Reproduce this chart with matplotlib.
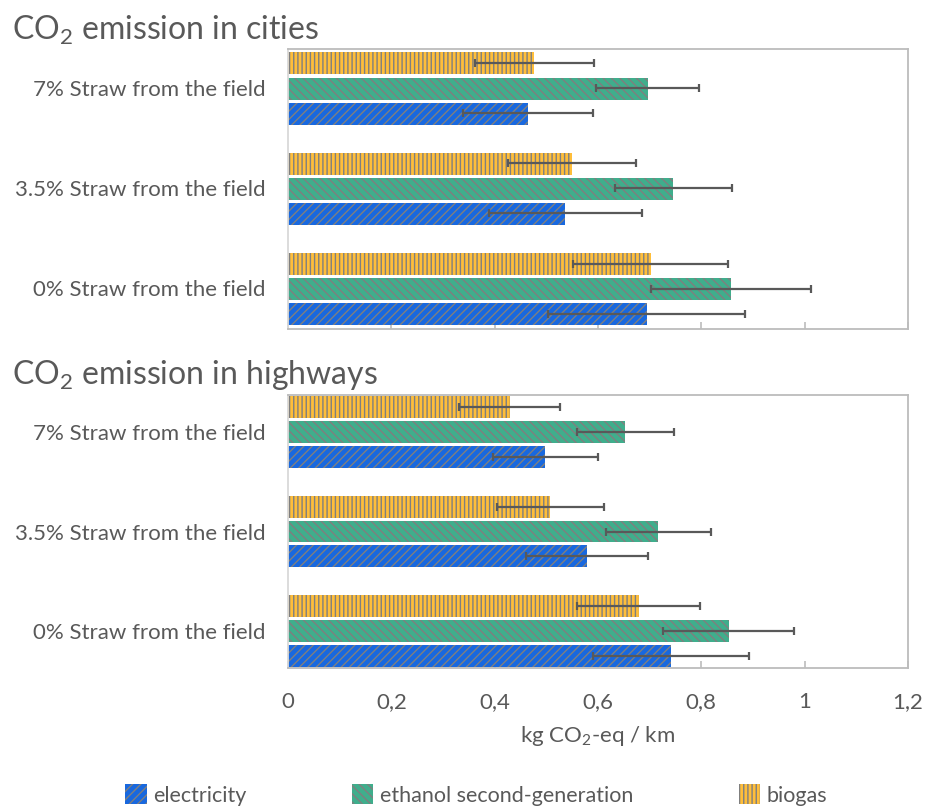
import matplotlib
matplotlib.use("Agg")
import matplotlib.pyplot as plt
from matplotlib.patches import Patch
import numpy as np

plt.rcParams['font.family'] = ['Lato', 'DejaVu Sans']
plt.rcParams['mathtext.fontset'] = 'custom'
plt.rcParams['mathtext.rm'] = 'Lato'
plt.rcParams['mathtext.it'] = 'Lato:italic'
plt.rcParams['mathtext.bf'] = 'Lato:bold'
plt.rcParams['hatch.linewidth'] = 1.0

# Scenarios, bottom to top on each panel
scenarios = ["0% Straw from the field", "3.5% Straw from the field", "7% Straw from the field"]
series = ["electricity", "ethanol second-generation", "biogas"]

# CO2 emission in cities (kg CO2-eq / km), per scenario above
city_electricity = [0.694, 0.537, 0.464]
city_ethanol = [0.857, 0.746, 0.696]
city_biogas = [0.702, 0.549, 0.477]
city_electricity_err = [0.19, 0.148, 0.126]
city_ethanol_err = [0.155, 0.114, 0.10]
city_biogas_err = [0.15, 0.124, 0.115]

# CO2 emission in highways (kg CO2-eq / km)
hw_electricity = [0.742, 0.578, 0.498]
hw_ethanol = [0.853, 0.717, 0.653]
hw_biogas = [0.679, 0.508, 0.429]
hw_electricity_err = [0.151, 0.118, 0.102]
hw_ethanol_err = [0.127, 0.101, 0.094]
hw_biogas_err = [0.119, 0.103, 0.098]

xticks = [0, 0.2, 0.4, 0.6, 0.8, 1.0, 1.2]
xtick_labels = ["0", "0,2", "0,4", "0,6", "0,8", "1", "1,2"]

face = {"electricity": "#1868df", "ethanol second-generation": "#3fae8c", "biogas": "#ffbe3a"}
hatch = {"electricity": "////", "ethanol second-generation": "\\\\\\\\", "biogas": "||||"}
offset = {"electricity": -0.25, "ethanol second-generation": 0.0, "biogas": 0.25}
hatch_col = "#7f7f7f"
text_col = "#595959"
spine_col = "#bcbcbc"
fs = 16

W, H = 925, 807
fig = plt.figure(figsize=(W / 100, H / 100), dpi=100)

left = 288 / W
width = (908 - 288) / W
ax_top = fig.add_axes([left, (H - 329) / H, width, 280 / H])
ax_bot = fig.add_axes([left, (H - 668) / H, width, 273 / H])


def draw_panel(ax, vals, errs, ylim):
    y = np.arange(len(scenarios))
    for name in series:
        ax.barh(y + offset[name], vals[name], height=0.22, color=face[name],
                edgecolor=hatch_col, hatch=hatch[name], linewidth=0, zorder=2)
        ax.errorbar(vals[name], y + offset[name], xerr=errs[name], fmt='none',
                    ecolor="#595959", elinewidth=1.6, capsize=3.2, capthick=1.6, zorder=3)
    ax.set_xlim(0, 1.2)
    ax.set_ylim(*ylim)
    ax.set_yticks(y)
    ax.set_yticklabels(scenarios, fontsize=fs, color=text_col)
    ax.tick_params(axis='y', length=0, pad=16)
    ax.set_xticks(xticks)
    ax.tick_params(axis='x', direction='in', length=5, width=1.2, color=spine_col)
    for s in ax.spines.values():
        s.set_color(spine_col)
        s.set_linewidth(1.3)
    ax.spines['left'].set_color("#d9d9d9")


draw_panel(ax_top,
           {"electricity": city_electricity, "ethanol second-generation": city_ethanol, "biogas": city_biogas},
           {"electricity": city_electricity_err, "ethanol second-generation": city_ethanol_err, "biogas": city_biogas_err},
           (-0.405, 2.395))
ax_top.set_xticklabels([])

draw_panel(ax_bot,
           {"electricity": hw_electricity, "ethanol second-generation": hw_ethanol, "biogas": hw_biogas},
           {"electricity": hw_electricity_err, "ethanol second-generation": hw_ethanol_err, "biogas": hw_biogas_err},
           (-0.37, 2.37))
ax_bot.set_xticklabels(xtick_labels, fontsize=fs, color=text_col)
ax_bot.tick_params(axis='x', pad=17)
ax_bot.set_xlabel("kg CO$_{2}$-eq / km", fontsize=fs, color=text_col, labelpad=9)

fig.text(12 / W, 1 - 30 / H, "CO$_{2}$ emission in cities", fontsize=23, color=text_col, va='center')
fig.text(12 / W, 1 - 375 / H, "CO$_{2}$ emission in highways", fontsize=23, color=text_col, va='center')

handles = [Patch(facecolor=face[n], edgecolor=hatch_col, hatch=hatch[n], linewidth=0) for n in series]
fig.legend(handles, series, loc='center left', bbox_to_anchor=(125 / W, 1 - 795 / H), ncol=3,
           frameon=False, fontsize=15.5, labelcolor=text_col, handlelength=1.0, handleheight=1.0,
           handletextpad=0.3, columnspacing=4.9, borderpad=0, borderaxespad=0)

fig.savefig("out.png", dpi=100)
